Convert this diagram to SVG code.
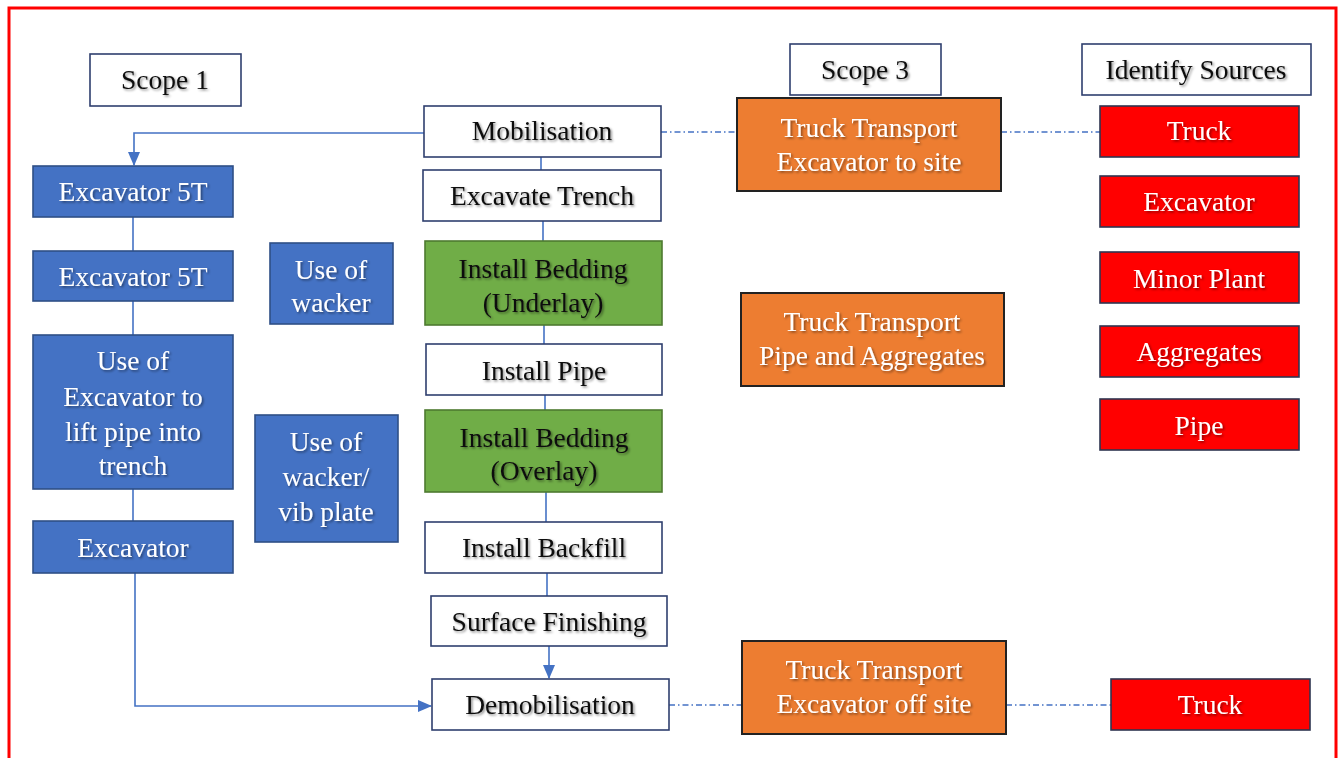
<svg xmlns="http://www.w3.org/2000/svg" width="1340" height="758" viewBox="0 0 1340 758">
<defs>
<marker id="arr" markerWidth="14" markerHeight="12" refX="13" refY="6" orient="auto" markerUnits="userSpaceOnUse">
<path d="M0,0 L14,6 L0,12 Z" fill="#4472C4"/>
</marker>
<filter id="sh" x="-10%" y="-30%" width="120%" height="160%">
<feDropShadow dx="1.5" dy="1.5" stdDeviation="1.2" flood-color="#000" flood-opacity="0.45"/>
</filter>
</defs>
<style>
text{font-family:"Liberation Serif","Times New Roman",serif;font-size:27.5px;text-anchor:middle;filter:url(#sh)}
.w rect{fill:#fff;stroke:#2F3F6E;stroke-width:1.6}
.w text{fill:#111}
.b rect{fill:#4472C4;stroke:#2F4F86;stroke-width:1.6}
.g rect{fill:#70AD47;stroke:#4E7A30;stroke-width:1.6}
.g text{fill:#111}
.o rect{fill:#ED7D31;stroke:#222;stroke-width:2}
.r rect{fill:#FF0000;stroke:#2F3550;stroke-width:1.6}
.b text,.o text,.r text{fill:#fff}
.c{fill:none;stroke:#4472C4;stroke-width:1.6}
.d{fill:none;stroke:#4472C4;stroke-width:1.4;stroke-dasharray:6 3 1.5 3}
</style>
<rect x="0" y="0" width="1340" height="758" fill="#fff"/>
<rect x="9" y="8" width="1327" height="770" fill="none" stroke="#FF0000" stroke-width="3"/>

<g id="connectors">
<path class="c" d="M424,133 H134 V165" marker-end="url(#arr)"/>
<path class="c" d="M541,157 V170"/>
<path class="c" d="M543,221 V241"/>
<path class="c" d="M544,325 V344"/>
<path class="c" d="M545,395 V410"/>
<path class="c" d="M546,492 V522"/>
<path class="c" d="M547,573 V596"/>
<path class="c" d="M549,646 V678" marker-end="url(#arr)"/>
<path class="c" d="M133,217 V251"/>
<path class="c" d="M133,301 V335"/>
<path class="c" d="M133,489 V521"/>
<path class="c" d="M135,573 V706 H431" marker-end="url(#arr)"/>
<path class="d" d="M661,132 H737"/>
<path class="d" d="M1001,132 H1100"/>
<path class="d" d="M669,705 H742"/>
<path class="d" d="M1006,705 H1111"/>
</g>

<g id="scope1" class="w"><rect x="90" y="54" width="151" height="52"/><text x="165" y="89">Scope 1</text></g>
<g id="scope3" class="w"><rect x="790" y="44" width="151" height="51"/><text x="865" y="79">Scope 3</text></g>
<g id="identify" class="w"><rect x="1082" y="44" width="229" height="51"/><text x="1196" y="79">Identify Sources</text></g>

<g id="mobilisation" class="w"><rect x="424" y="106" width="237" height="51"/><text x="542" y="140">Mobilisation</text></g>
<g id="excavate" class="w"><rect x="423" y="170" width="238" height="51"/><text x="542" y="205">Excavate Trench</text></g>
<g id="underlay" class="g"><rect x="425" y="241" width="237" height="84"/><text x="543" y="278">Install Bedding</text><text x="543" y="312">(Underlay)</text></g>
<g id="pipe" class="w"><rect x="426" y="344" width="236" height="51"/><text x="544" y="380">Install Pipe</text></g>
<g id="overlay" class="g"><rect x="425" y="410" width="237" height="82"/><text x="544" y="447">Install Bedding</text><text x="544" y="480">(Overlay)</text></g>
<g id="backfill" class="w"><rect x="425" y="522" width="237" height="51"/><text x="544" y="557">Install Backfill</text></g>
<g id="surface" class="w"><rect x="431" y="596" width="236" height="50"/><text x="549" y="631">Surface Finishing</text></g>
<g id="demob" class="w"><rect x="432" y="679" width="237" height="51"/><text x="550" y="714">Demobilisation</text></g>

<g id="exc5t1" class="b"><rect x="33" y="166" width="200" height="51"/><text x="133" y="201">Excavator 5T</text></g>
<g id="exc5t2" class="b"><rect x="33" y="251" width="200" height="50"/><text x="133" y="286">Excavator 5T</text></g>
<g id="lift" class="b"><rect x="33" y="335" width="200" height="154"/><text x="133" y="370">Use of</text><text x="133" y="406">Excavator to</text><text x="133" y="441">lift pipe into</text><text x="133" y="475">trench</text></g>
<g id="exc" class="b"><rect x="33" y="521" width="200" height="52"/><text x="133" y="557">Excavator</text></g>
<g id="wacker" class="b"><rect x="270" y="243" width="123" height="81"/><text x="331" y="279">Use of</text><text x="331" y="312">wacker</text></g>
<g id="vib" class="b"><rect x="255" y="415" width="143" height="127"/><text x="326" y="451">Use of</text><text x="326" y="486">wacker/</text><text x="326" y="521">vib plate</text></g>

<g id="truck1" class="o"><rect x="737" y="98" width="264" height="93"/><text x="869" y="137">Truck Transport</text><text x="869" y="171">Excavator to site</text></g>
<g id="truck2" class="o"><rect x="741" y="293" width="263" height="93"/><text x="872" y="331">Truck Transport</text><text x="872" y="365">Pipe and Aggregates</text></g>
<g id="truck3" class="o"><rect x="742" y="641" width="264" height="93"/><text x="874" y="679">Truck Transport</text><text x="874" y="713">Excavator off site</text></g>

<g id="src-truck" class="r"><rect x="1100" y="106" width="199" height="51"/><text x="1199" y="140">Truck</text></g>
<g id="src-exc" class="r"><rect x="1100" y="176" width="199" height="51"/><text x="1199" y="211">Excavator</text></g>
<g id="src-minor" class="r"><rect x="1100" y="252" width="199" height="51"/><text x="1199" y="288">Minor Plant</text></g>
<g id="src-agg" class="r"><rect x="1100" y="326" width="199" height="51"/><text x="1199" y="361">Aggregates</text></g>
<g id="src-pipe" class="r"><rect x="1100" y="399" width="199" height="51"/><text x="1199" y="435">Pipe</text></g>
<g id="src-truck2" class="r"><rect x="1111" y="679" width="199" height="51"/><text x="1210" y="714">Truck</text></g>
</svg>
